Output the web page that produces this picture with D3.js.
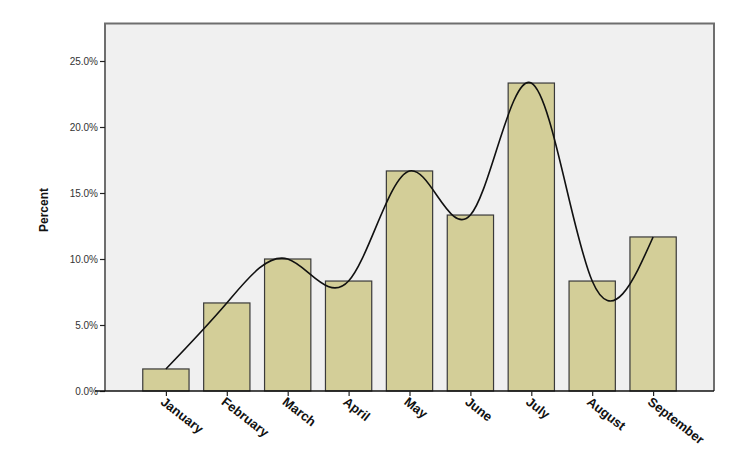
<!DOCTYPE html>
<html><head><meta charset="utf-8">
<script src="https://cdn.jsdelivr.net/npm/d3@7"></script>
<style>body{margin:0;background:#fff}svg{display:block}</style>
</head><body><svg id="c" width="745" height="470"></svg>
<script>
const months = ["January","February","March","April","May","June","July","August","September"];
const percents = [1.67, 6.67, 10.0, 8.33, 16.67, 13.33, 23.33, 8.33, 11.67];
const yTicks = [0, 5, 10, 15, 20, 25];
const yMax = 27.85;

const svg = d3.select("#c");
const L = 105, R = 714, B = 391;
const y = d3.scaleLinear().domain([0, 25]).range([B, 61]);
const T = y(yMax);
const x = d3.scalePoint().domain(months).range([L, R]).padding(1);
const bw = x.step() * 0.76;

// plot background
svg.append("rect").attr("x", L).attr("y", T).attr("width", R - L).attr("height", B - T)
  .attr("fill", "#f0f0f0");

// bars
svg.append("g").selectAll("rect").data(months).join("rect")
  .attr("x", d => x(d) - bw / 2)
  .attr("y", (d, i) => y(percents[i]))
  .attr("width", bw)
  .attr("height", (d, i) => B - y(percents[i]))
  .attr("fill", "#d3ce98")
  .attr("stroke", "#3a3a3a")
  .attr("stroke-width", 1.2);

// curve
const line = d3.line().x(d => x(d[0])).y(d => y(d[1])).curve(d3.curveNatural);
svg.append("path").datum(months.map((m, i) => [m, percents[i]]))
  .attr("d", line).attr("fill", "none").attr("stroke", "#111").attr("stroke-width", 1.6);

// frame
svg.append("path")
  .attr("d", `M${L},${B}V${T}H${R}V${B}`)
  .attr("fill", "none").attr("stroke", "#6e6e6e").attr("stroke-width", 2);

// y axis
const ya = svg.append("g").attr("transform", `translate(${L},0)`)
  .call(d3.axisLeft(y).tickValues(yTicks).tickSize(5).tickPadding(2).tickFormat(d => d3.format(".1f")(d) + "%"));
ya.select(".domain").remove();
ya.selectAll(".tick line").attr("stroke", "#222").attr("stroke-width", 1.2);
ya.selectAll("text").attr("font-family", "Liberation Sans, Arial, sans-serif").attr("font-size", 10).attr("fill", "#333");

// x axis
const xa = svg.append("g").attr("transform", `translate(0,${B})`)
  .call(d3.axisBottom(x).tickSize(5).tickSizeOuter(0));
xa.select(".domain").attr("d", `M${L - 10},0H${R}`).attr("stroke", "#111").attr("stroke-width", 1.5);
xa.selectAll(".tick line").attr("stroke", "#222").attr("stroke-width", 1.2);
xa.selectAll("text")
  .attr("font-family", "Liberation Sans, Arial, sans-serif").attr("font-size", 13).attr("font-weight", "bold")
  .attr("fill", "#111")
  .attr("text-anchor", "start").attr("y", 0).attr("dy", "0.72em")
  .attr("transform", "translate(-1,5) rotate(38)");

// y title
svg.append("text").attr("transform", "translate(48,210) rotate(-90)")
  .attr("text-anchor", "middle")
  .attr("font-family", "Liberation Sans, Arial, sans-serif").attr("font-size", 12).attr("font-weight", "bold")
  .attr("fill", "#111").text("Percent");
</script></body></html>
